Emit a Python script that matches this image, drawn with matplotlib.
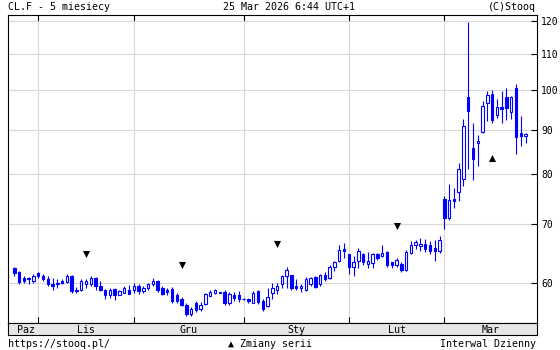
import numpy as np
import pandas as pd
import matplotlib
matplotlib.use('Agg')
import matplotlib.pyplot as plt

# daily candles, CL.F, 27 Oct 2025 - 25 Mar 2026
dates = pd.bdate_range('2025-10-27', '2026-03-25')

opens = [62.3, 61.7, 60.7, 60.7, 60.2, 61.5, 61.1, 60.5, 59.85, 59.9,
         60.3, 60.1, 61.0, 58.9, 58.8, 59.7, 59.8, 60.7, 59.5, 58.9,
         58.1, 59.0, 58.1, 58.4, 58.8, 58.8, 59.5, 58.6, 59.2, 59.7,
         60.2, 59.1, 58.8, 59.0, 58.1, 57.4, 56.6, 55.2, 56.9, 56.0,
         56.7, 57.9, 58.4, 58.4, 58.5, 56.9, 58.0, 58.1, 57.4, 57.4,
         56.9, 58.6, 57.2, 56.4, 58.3, 58.9, 59.7, 61.0, 61.2, 59.5,
         59.1, 58.9, 59.7, 60.9, 59.7, 61.2, 60.7, 62.5, 63.6, 65.6,
         64.8, 62.5, 63.6, 64.7, 63.0, 63.2, 64.7, 64.3, 65.1, 63.3,
         62.8, 63.1, 62.1, 64.9, 66.3, 66.1, 66.5, 66.2, 65.7, 65.2,
         74.9, 71.3, 74.8, 76.2, 79.0, 98.1, 85.7, 86.8, 89.5, 96.7,
         99.0, 93.5, 95.5, 98.1, 94.4, 100.5, 89.1, 88.6]
highs = [62.5, 61.9, 61.1, 60.9, 61.4, 61.7, 61.4, 61.0, 60.8, 60.6,
         60.6, 61.3, 61.2, 59.3, 60.6, 60.6, 61.0, 60.9, 60.2, 59.0,
         59.1, 59.1, 58.8, 59.4, 59.6, 60.0, 59.8, 59.5, 60.0, 60.7,
         60.4, 59.4, 59.2, 59.3, 58.4, 57.8, 56.8, 56.3, 57.1, 57.0,
         58.4, 58.8, 59.0, 58.5, 58.8, 58.5, 58.5, 58.7, 57.6, 57.6,
         58.7, 58.9, 57.4, 59.1, 60.0, 60.0, 61.2, 62.5, 61.2, 60.6,
         59.8, 60.9, 60.9, 61.0, 61.4, 61.7, 62.8, 63.6, 66.3, 66.6,
         64.8, 64.3, 65.7, 64.9, 65.0, 64.9, 64.9, 66.2, 65.3, 63.3,
         64.0, 63.3, 65.5, 67.0, 67.2, 67.5, 67.4, 67.0, 67.1, 67.8,
         75.5, 78.0, 77.2, 82.3, 92.6, 119.6, 91.5, 88.8, 97.1, 99.6,
         100.0, 97.6, 99.8, 100.5, 98.4, 101.6, 93.3, 89.1]
lows = [61.0, 59.8, 59.9, 59.7, 59.9, 60.7, 60.2, 59.4, 58.9, 59.2,
        59.7, 59.9, 58.4, 58.3, 58.6, 59.2, 59.5, 58.9, 58.6, 57.5,
        57.6, 57.3, 58.0, 58.3, 58.2, 58.3, 58.2, 58.4, 58.9, 59.5,
        58.5, 58.0, 58.0, 56.8, 56.9, 56.4, 54.9, 54.9, 55.5, 55.6,
        56.5, 57.9, 58.2, 58.3, 56.5, 56.6, 57.2, 57.0, 57.3, 56.8,
        56.8, 56.7, 55.6, 56.2, 57.5, 58.2, 59.2, 59.2, 58.8, 58.8,
        58.5, 58.6, 59.5, 59.1, 59.4, 60.2, 60.5, 61.9, 63.3, 64.0,
        61.4, 61.0, 62.3, 62.9, 62.3, 62.4, 63.7, 64.2, 62.6, 62.4,
        62.5, 61.7, 61.9, 64.7, 65.6, 65.3, 65.1, 64.8, 63.5, 64.9,
        69.1, 70.9, 73.1, 74.5, 77.5, 81.1, 78.7, 81.8, 89.2, 92.0,
        91.7, 92.8, 91.5, 92.3, 92.5, 84.3, 86.3, 86.8]
closes = [61.5, 60.1, 60.3, 60.5, 61.0, 61.0, 60.5, 59.7, 59.5, 59.7,
          60.0, 61.1, 58.6, 58.6, 60.2, 60.2, 60.8, 59.4, 58.9, 58.1,
          58.9, 58.1, 58.7, 59.2, 58.2, 59.4, 58.6, 59.1, 59.7, 60.2,
          58.9, 58.2, 58.5, 57.2, 57.2, 56.6, 55.2, 56.0, 55.8, 56.6,
          58.2, 58.5, 58.8, 58.45, 56.8, 58.2, 57.6, 57.4, 57.5, 57.1,
          58.4, 57.0, 55.9, 57.8, 59.2, 59.5, 61.0, 62.0, 59.1, 59.2,
          59.5, 60.6, 60.8, 59.3, 61.2, 60.5, 62.5, 63.3, 65.5, 65.2,
          62.5, 63.3, 65.2, 63.3, 63.6, 64.7, 64.0, 64.9, 62.9, 62.9,
          63.7, 62.1, 65.1, 66.3, 66.8, 66.5, 65.6, 65.3, 65.2, 67.1,
          71.3, 74.7, 74.5, 81.0, 90.9, 94.6, 83.2, 87.3, 95.8, 98.7,
          92.4, 95.5, 95.1, 95.4, 98.1, 88.2, 88.6, 88.9]

# series changes (contract roll): dates, levels, direction
roll_dates = pd.to_datetime(['2025-11-17', '2025-12-15', '2026-01-12',
                             '2026-02-16', '2026-03-16'])
roll_levels = [64.8, 62.8, 66.4, 69.8, 83.4]
roll_marks = ['v', 'v', 'v', 'v', '^']

month_names = ['Paz', 'Lis', 'Gru', 'Sty', 'Lut', 'Mar']
y_ticks = [60, 70, 80, 90, 100, 110, 120]

W, H = 560, 350
BLUE = '#0000ff'
GRID = '#d8d8d8'
FONT = 'DejaVu Sans Mono'


def box(left, top, right, bottom):
    return [left / W, 1 - bottom / H, (right - left) / W, (bottom - top) / H]


fig = plt.figure(figsize=(W / 100, H / 100), dpi=100)
fig.patch.set_facecolor('white')

ax = fig.add_axes(box(8, 15, 537, 323))
x = np.arange(len(dates))
o = np.array(opens)
c = np.array(closes)
up = c >= o
xlim = (-1.32, 109.4)

ax.vlines(x, lows, highs, color=BLUE, lw=0.8, zorder=2)
ax.bar(x, np.abs(c - o), bottom=np.minimum(o, c), width=0.5,
       color=np.where(up, 'white', BLUE), edgecolor=BLUE, lw=0.8, zorder=3)

for d, lvl, m in zip(roll_dates, roll_levels, roll_marks):
    ax.scatter(dates.get_loc(d), lvl, marker=m, s=26, color='black',
               zorder=4, linewidths=0)

ax.set_yscale('log')
ax.set_ylim(53.9, 122.0)
ax.set_xlim(*xlim)
ax.set_yticks(y_ticks)
ax.set_yticklabels([str(t) for t in y_ticks])
ax.yaxis.set_minor_locator(plt.NullLocator())
ax.yaxis.set_minor_formatter(plt.NullFormatter())
ax.yaxis.tick_right()

month_idx = [i for i in range(1, len(dates)) if dates[i].month != dates[i - 1].month]
ax.set_xticks(month_idx)
ax.set_xticklabels([])
ax.tick_params(axis='x', direction='in', length=4, width=0.8, top=True, bottom=True)
ax.tick_params(axis='y', direction='in', length=4, width=0.8, pad=3,
               labelsize=7, left=False, right=True)
for lab in ax.get_yticklabels():
    lab.set_family(FONT)
ax.grid(True, color=GRID, lw=0.8, zorder=0)
ax.set_axisbelow(True)
for s in ax.spines.values():
    s.set_linewidth(0.8)

# month strip
ax2 = fig.add_axes(box(8, 323, 537, 335))
ax2.set_facecolor('#e6e6e6')
ax2.set_xlim(*xlim)
ax2.set_ylim(0, 1)
ax2.set_xticks([])
ax2.set_yticks([])
for s in ax2.spines.values():
    s.set_linewidth(0.8)
edges = [0] + month_idx + [xlim[1]]
for name, a, b in zip(month_names, edges[:-1], edges[1:]):
    ax2.text((a + b) / 2, 0.45, name, ha='center', va='center',
             fontsize=7.2, family=FONT)

fs = 7.2
fig.text(8 / W, 1 - 7 / H, 'CL.F - 5 miesiecy', ha='left', va='center', fontsize=fs, family=FONT)
fig.text(289 / W, 1 - 7 / H, '25 Mar 2026 6:44 UTC+1', ha='center', va='center', fontsize=fs, family=FONT)
fig.text(536 / W, 1 - 7 / H, '(C)Stooq', ha='right', va='center', fontsize=fs, family=FONT)
fig.text(8 / W, 1 - 344 / H, 'https://stooq.pl/', ha='left', va='center', fontsize=fs, family=FONT)
fig.text(228 / W, 1 - 344 / H, '\u25b2 Zmiany serii', ha='left', va='center', fontsize=fs, family=FONT)
fig.text(536 / W, 1 - 344 / H, 'Interwal Dzienny', ha='right', va='center', fontsize=fs, family=FONT)

fig.savefig('out.png', dpi=100)
